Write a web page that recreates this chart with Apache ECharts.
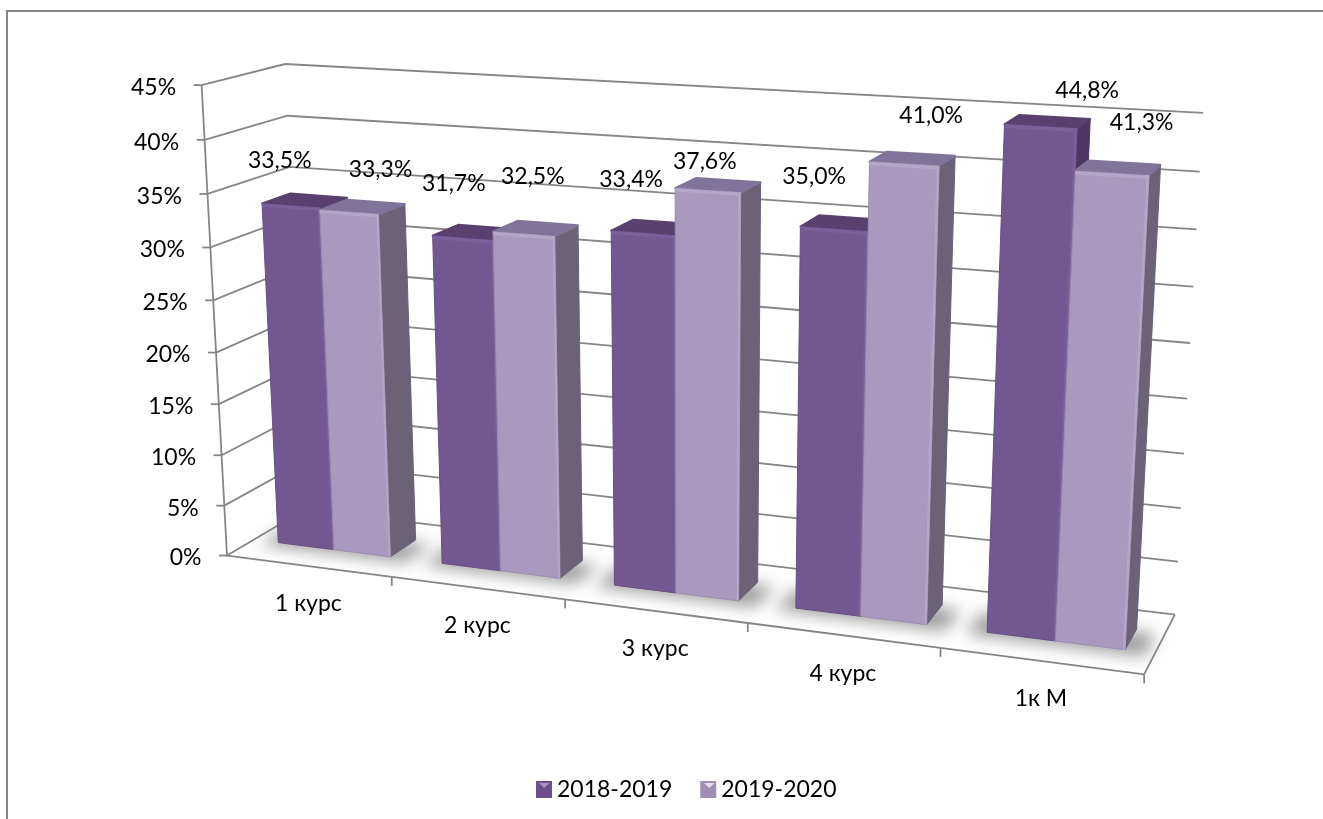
<!DOCTYPE html>
<html><head><meta charset="utf-8">
<script src="https://cdn.jsdelivr.net/npm/echarts@6/dist/echarts.min.js"></script>
<style>html,body{margin:0;padding:0;background:#fff}#c{width:1323px;height:819px}</style>
</head><body><div id="c"></div>
<script>
const categories = ['1 курс','2 курс','3 курс','4 курс','1к М'];
const series2018 = [33.5,31.7,33.4,35.0,44.8];
const series2019 = [33.3,32.5,37.6,41.0,41.3];
const valueTicks = [0,5,10,15,20,25,30,35,40,45];
const seriesNames = ['2018-2019','2019-2020'];

// label nudges relative to the projected bar-top centre
const nudge2018 = [[-11,-45],[-9,-54],[-12,-54],[-20,-52],[46.5,-36]];
const nudge2019 = [[31.5,-43],[9,-57],[-3,-29],[27,-48],[29.5,-51]];

const FONT = 'Lato, "Open Sans", "Noto Sans", sans-serif';
const FS = 23;
const GRID = '#868686';

// Calibration of the perspective box: [catU(0..1), depth(0..1), val(0..1), px, py]
const calib = [
 [0,0,0,227,555],[1,0,0,1144,675],[1,1,0,1175,614],[0,1,0,305,510],
 [0,0,1,201.7,85],[1,1,1,1203,113],[0,1,1,285,64]
];
function solve(A,b){const n=b.length;for(let i=0;i<n;i++){let m=i;for(let r=i+1;r<n;r++)if(Math.abs(A[r][i])>Math.abs(A[m][i]))m=r;
 [A[i],A[m]]=[A[m],A[i]];[b[i],b[m]]=[b[m],b[i]];
 for(let r=i+1;r<n;r++){const f=A[r][i]/A[i][i];for(let c=i;c<n;c++)A[r][c]-=f*A[i][c];b[r]-=f*b[i];}}
 const x=new Array(n);for(let i=n-1;i>=0;i--){let s=b[i];for(let c=i+1;c<n;c++)s-=A[i][c]*x[c];x[i]=s/A[i][i];}return x;}
const M=(function(){const rows=[],rhs=[];calib.forEach(([X,Y,Z,px,py])=>{const x=px/1000,y=py/1000;
 rows.push([X,Y,Z,1,0,0,0,0,-x*X,-x*Y,-x*Z]);rhs.push(x);
 rows.push([0,0,0,0,X,Y,Z,1,-y*X,-y*Y,-y*Z]);rhs.push(y);});
 const n=11,A=[],b=[];for(let i=0;i<n;i++){A.push(new Array(n).fill(0));b.push(0);
  for(let r=0;r<rows.length;r++){b[i]+=rows[r][i]*rhs[r];for(let j=0;j<n;j++)A[i][j]+=rows[r][i]*rows[r][j];}}
 return solve(A,b);})();
function P(u,w,v){const X=u/categories.length,Y=w,Z=v/45,d=M[8]*X+M[9]*Y+M[10]*Z+1;
 return [1000*(M[0]*X+M[1]*Y+M[2]*Z+M[3])/d,1000*(M[4]*X+M[5]*Y+M[6]*Z+M[7])/d];}

// read category position and value through the library's scales
function uv(params,api){const cs=params.coordSys,c=api.coord([api.value(0),api.value(1)]);
 return {u:(c[0]-cs.x)/cs.width*categories.length, v:(cs.y+cs.height-c[1])/cs.height*45};}
const poly=(pts,fill,extra)=>({type:'polygon',silent:true,shape:{points:pts},style:Object.assign({fill:fill},extra||{})});
const line=(pts,w,col)=>({type:'polyline',silent:true,shape:{points:pts},style:{fill:'none',stroke:col||GRID,lineWidth:w||1.8}});

const BW=0.345, W0=0.30, W1=0.65, USHIFT=0.015, BASE=0.2;

function wallItem(params,api){const {v}=uv(params,api),n=categories.length;
 const a=P(0,0,v);
 return {type:'group',children:[
  line([P(0,0,v),P(0,1,v),P(n,1,v)]),
  line([a,[a[0]-8,a[1]]]),
  {type:'text',silent:true,style:{x:a[0]-25.5,y:a[1]+2.5,text:api.value(1)+'%',font:FS+'px '+FONT,fill:'#000',textAlign:'right',textVerticalAlign:'middle'},z2:90}
 ]};}
function floorItem(params,api){const {u}=uv(params,api),n=categories.length,i=u-0.5;
 const ch=[];const b=P(i+1,0,0);
 ch.push(line([P(i,0,0),b]));ch.push(line([b,[b[0],b[1]+9]]));
 if(params.dataIndex===0)ch.push(line([P(0,0,0),P(0,0,45)]));
 if(params.dataIndex===n-1)ch.push(line([P(n,0,0),P(n,1,0)]));
 const c=P(u,0,0);
 ch.push({type:'text',silent:true,style:{x:c[0],y:c[1]+38,text:categories[params.dataIndex],font:FS+'px '+FONT,fill:'#000',textAlign:'center',textVerticalAlign:'middle'},z2:90});
 return {type:'group',children:ch};}
function shadowItem(params,api){const {u}=uv(params,api),uc=u+USHIFT,a=uc-BW-0.1,b=uc+BW+0.1,w0=W0-0.035,w1=W1-0.01,off=3000;
 const pts=[P(a,w0,0),P(b,w0,0),P(b,w1,0),P(a,w1,0)].map(p=>[p[0]-off,p[1]]);
 return poly(pts,'#000',{shadowBlur:16,shadowColor:'rgba(125,125,125,0.75)',shadowOffsetX:off});}

function barItem(side,pal,nudges){return function(params,api){
 const {u,v}=uv(params,api),uc=u+USHIFT;
 const u0=side===0?uc-BW:uc,u1=side===0?uc:uc+BW;
 const fb0=P(u0,W0,BASE),fb1=P(u1,W0,BASE),ft1=P(u1,W0,v),ft0=P(u0,W0,v),bt0=P(u0,W1,v),bt1=P(u1,W1,v),bb1=P(u1,W1,BASE);
 const e=0.012,vt=v-0.3;
 const ch=[
  poly([fb1,bb1,bt1,ft1],pal.side,{stroke:pal.side,lineWidth:1,lineJoin:'round'}),
  poly([ft0,ft1,bt1,bt0],pal.top,{stroke:pal.top,lineWidth:2,lineJoin:'round'}),
  poly([fb0,fb1,ft1,ft0],pal.front,{stroke:pal.edge,lineWidth:1}),
  poly([P(u0,W0,vt),P(u1,W0,vt),ft1,ft0],pal.hi),
  poly([P(u1-e,W0,BASE),fb1,ft1,P(u1-e,W0,v)],pal.hi)
 ];
 const c=P((u0+u1)/2,W0,v),nd=nudges[params.dataIndex];
 ch.push({type:'text',silent:true,z2:100,style:{x:c[0]+nd[0],y:c[1]+nd[1],
   text:api.value(1).toFixed(1).replace('.',',')+'%',font:FS+'px '+FONT,fill:'#000',textAlign:'center',textVerticalAlign:'middle'}});
 return {type:'group',children:ch};};}

const darkPal={front:'#725891',side:'#4B3762',top:'#58416F',hi:'#7A619B',edge:'#66507F'};
const lightPal={front:'#A999BE',side:'#6B6278',top:'#80749A',hi:'#B4A6C8',edge:'#9A8CB0'};

const option={
 animation:false,backgroundColor:'#fff',
 grid:{left:184,top:87,width:1000,height:469},
 xAxis:{type:'category',data:categories,show:false},
 yAxis:{type:'value',min:0,max:45,interval:5,show:false},
 legend:{data:[{name:seriesNames[0],itemStyle:{color:'#6A4F8A'}},{name:seriesNames[1],itemStyle:{color:'#9E8FB3'}}],
  left:536,top:778,padding:0,icon:'rect',itemWidth:16,itemHeight:17,itemGap:28,selectedMode:false,
  textStyle:{color:'#000',fontFamily:FONT,fontSize:FS}},
 graphic:[
  {type:'rect',shape:{x:6,y:10,width:2,height:809},style:{fill:GRID},silent:true},
  {type:'rect',shape:{x:6,y:10,width:1317,height:2},style:{fill:GRID},silent:true},
  {type:'polygon',shape:{points:[[539,783],[549.5,783],[544.2,788]]},style:{fill:'#A898BC'},silent:true,z:50},
  {type:'polygon',shape:{points:[[704,783],[714.5,783],[709.2,788]]},style:{fill:'#E6E0EE'},silent:true,z:50}
 ],
 series:[
  {type:'custom',name:'walls',coordinateSystem:'cartesian2d',z:1,data:valueTicks.map(t=>[0,t]),renderItem:wallItem,silent:true},
  {type:'custom',name:'floor',coordinateSystem:'cartesian2d',z:1,data:categories.map((c,i)=>[i,0]),renderItem:floorItem,silent:true},
  {type:'custom',name:'shadow',coordinateSystem:'cartesian2d',z:2,data:categories.map((c,i)=>[i,0]),renderItem:shadowItem,silent:true},
  {type:'custom',name:seriesNames[0],coordinateSystem:'cartesian2d',z:3,itemStyle:{color:'#6A4F8A'},data:series2018.map((y,i)=>[i,y]),renderItem:barItem(0,darkPal,nudge2018),silent:true},
  {type:'custom',name:seriesNames[1],coordinateSystem:'cartesian2d',z:4,itemStyle:{color:'#9E8FB3'},data:series2019.map((y,i)=>[i,y]),renderItem:barItem(1,lightPal,nudge2019),silent:true}
 ]
};
echarts.init(document.getElementById('c'),null,{renderer:'canvas'}).setOption(option);
</script></body></html>
